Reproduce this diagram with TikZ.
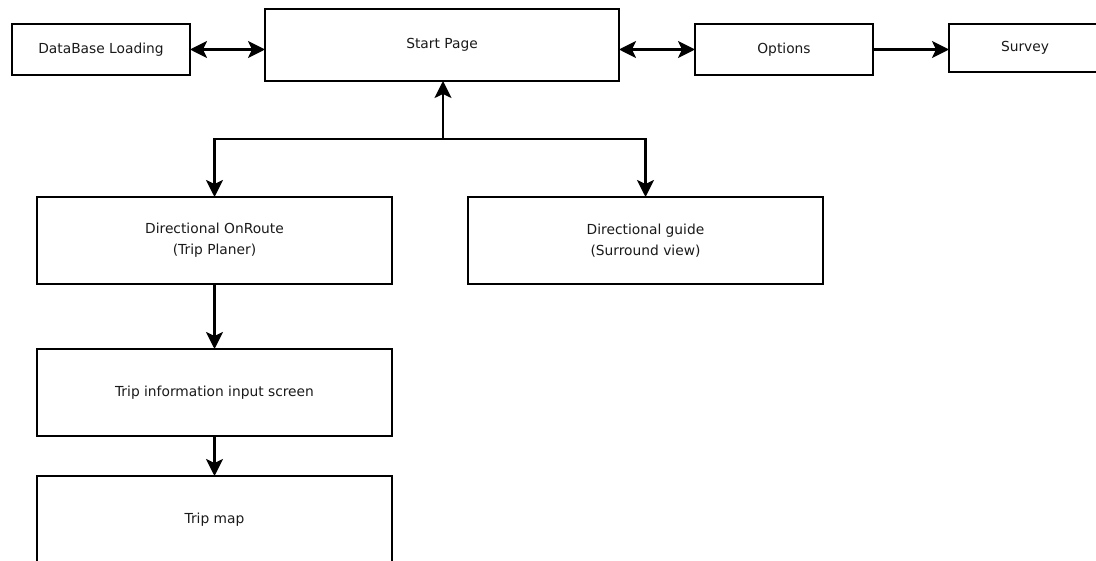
\documentclass[tikz,border=0pt]{standalone}
\usepackage{fontspec}
\setmainfont{DejaVu Sans}
\usetikzlibrary{arrows.meta}
\definecolor{inkgray}{HTML}{1A1A1A}
\begin{document}
\begin{tikzpicture}[x=1pt,y=-1pt,
  box/.style={draw=black, line width=2.5pt, fill=white, rectangle,
    inner sep=0pt, outer sep=0pt, align=center, text=inkgray,
    font=\fontsize{13.8}{21}\selectfont},
  smallbox/.style={box, minimum width=178pt, minimum height=51pt},
  bigbox/.style={box, minimum width=355pt, minimum height=87pt},
  link/.style={line width=2.3pt, -{Stealth[length=17pt, width=17pt, inset=4pt]}},
  dlink/.style={line width=2.3pt, {Stealth[length=17pt, width=17pt, inset=4pt]}-{Stealth[length=17pt, width=17pt, inset=4pt]}}]
  \useasboundingbox (0,0) rectangle (1096,561);
  \clip (0,0) rectangle (1096,561);

  % top row
  \node[smallbox] (db) at (101,49.5) {DataBase Loading};
  \node[box, minimum width=354pt, minimum height=72pt] (start) at (442,45) {Start Page};
  \node[smallbox] (opt) at (784,49.5) {Options};
  \node[box, minimum width=152pt, minimum height=48pt] (surv) at (1025,48) {Survey};

  % second row
  \node[bigbox] (onroute) at (214.5,240.5) {Directional OnRoute\\(Trip Planer)};
  \node[bigbox] (guide) at (645.5,240.5) {Directional guide\\(Surround view)};

  % trip planner chain
  \node[bigbox] (info) at (214.5,392.5) {Trip information input screen};
  \node[bigbox] (map) at (214.5,519.5) {Trip map};

  % connectors
  \draw[dlink] (db.east) -- (start.west |- db.east);
  \draw[dlink] (start.east |- opt.west) -- (opt.west);
  \draw[link] (opt.east) -- (opt.east -| surv.west);

  \coordinate (jn) at (443,139);
  \draw[link] (jn) -- (jn |- start.south);
  \draw[link] (jn) -| (onroute.north);
  \draw[link] (jn) -| (guide.north);

  \draw[link] (onroute.south) -- (info.north);
  \draw[link] (info.south) -- (map.north);
\end{tikzpicture}
\end{document}
